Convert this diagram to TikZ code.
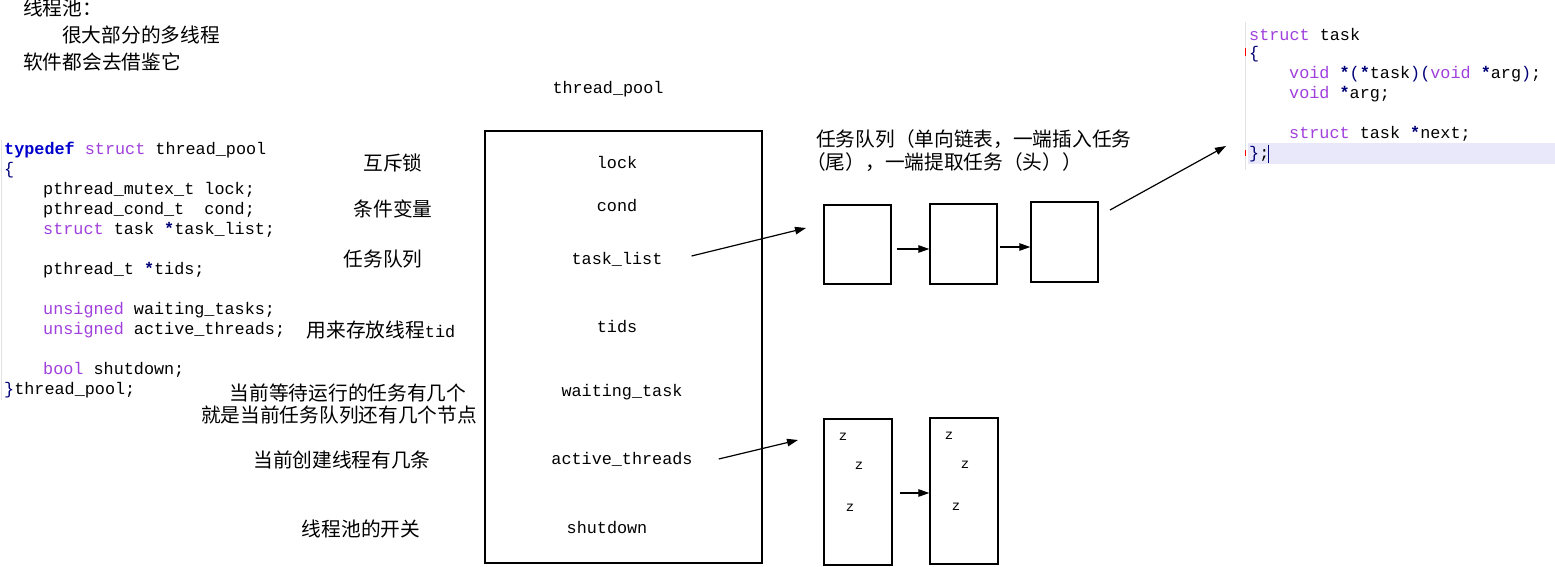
\documentclass[tikz,border=0pt]{standalone}
\usepackage{fontspec}
\setmonofont{Liberation Mono}
\newfontfamily\cjk{Noto Sans CJK SC}
\usetikzlibrary{arrows.meta}
\definecolor{kwc}{RGB}{160,64,220}
\definecolor{tdc}{RGB}{0,0,205}
\definecolor{opc}{RGB}{0,0,120}
\definecolor{hl}{RGB}{232,232,250}
\definecolor{gut}{RGB}{225,225,225}
\newcommand\kwd[1]{\textcolor{kwc}{#1}}
\newcommand\opr[1]{\textcolor{opc}{\bfseries #1}}
\tikzset{
  code/.style={anchor=west,inner sep=0pt,font=\fontsize{16.8}{20}\ttfamily},
  cn/.style={inner sep=0pt,font=\fontsize{19.7}{22}\cjk},
  cnl/.style={cn,anchor=west},
  lbl/.style={inner sep=0pt,font=\fontsize{16.8}{20}\ttfamily},
  blk/.style={draw,line width=1.4pt},
  arr/.style={-{Triangle[length=11pt,width=7.5pt]},line width=1.2pt},
  zz/.style={inner sep=0pt,font=\fontsize{14}{16}\ttfamily}
}
\begin{document}
\begin{tikzpicture}[x=1pt,y=-1pt]
\useasboundingbox[fill=white] (0,0) rectangle (1555,567);
% top-left notes
\node[cnl] (n1) at (23,8) {线程池：};
\node[cnl] (n2) at (62,35) {很大部分的多线程};
\node[cnl] (n3) at (23,62) {软件都会去借鉴它};
% left code
\draw[gut,line width=1pt] (1.5,140) -- (1.5,400);
\node[code] (c1) at (4,150) {\textcolor{tdc}{\bfseries typedef} \kwd{struct} thread\_pool};
\node[code] (c2) at (4,170) {\textcolor{opc}{\{}};
\node[code] (c3) at (43,190) {pthread\_mutex\_t lock;};
\node[code] (c4) at (43,210) {pthread\_cond\_t\ \ cond;};
\node[code] (c5) at (43,230) {\kwd{struct} task \opr{*}task\_list;};
\node[code] (c6) at (43,270) {pthread\_t \opr{*}tids;};
\node[code] (c7) at (43,310) {\kwd{unsigned} waiting\_tasks;};
\node[code] (c8) at (43,330) {\kwd{unsigned} active\_threads;};
\node[code] (c9) at (43,370) {\kwd{bool} shutdown;};
\node[code] (c10) at (4,390) {\textcolor{opc}{\}}thread\_pool;};
% annotations
\node[cn] (a1) at (393,163) {互斥锁};
\node[cn] (a2) at (393,209) {条件变量};
\node[cn] (a3) at (383,259) {任务队列};
\node[cn] (a4) at (381,330) {用来存放线程{\fontsize{16.8}{20}\ttfamily tid}};
\node[cn] (a5) at (348,393) {当前等待运行的任务有几个};
\node[cn] (a6) at (339,415) {就是当前任务队列还有几个节点};
\node[cn] (a7) at (342,460) {当前创建线程有几条};
\node[cn] (a8) at (361,529) {线程池的开关};
% thread pool box
\node[lbl] (tp) at (608,89) {thread\_pool};
\draw[blk] (485,131) rectangle (762,563);
\node[lbl] (f1) at (617,162) {lock};
\node[lbl] (f2) at (617,206) {cond};
\node[lbl] (f3) at (617,259) {task\_list};
\node[lbl] (f4) at (617,327) {tids};
\node[lbl] (f5) at (622,392) {waiting\_task};
\node[lbl] (f6) at (622,459) {active\_threads};
\node[lbl] (f7) at (607,528) {shutdown};
% task queue
\node[cnl] (q1) at (816,139) {任务队列（单向链表，一端插入任务};
\node[cnl] (q2) at (806,162) {（尾），一端提取任务（头））};
\node[blk,minimum width=67pt,minimum height=79pt,inner sep=0pt] (b1) at (857.5,244.5) {};
\node[blk,minimum width=67pt,minimum height=80pt,inner sep=0pt] (b2) at (963.5,244) {};
\node[blk,minimum width=67pt,minimum height=80pt,inner sep=0pt] (b3) at (1064.5,242) {};
\draw[arr] (b1.east|-0,249) ++(5,0) -- (b2.west|-0,249);
\draw[arr] (b2.east|-0,247) ++(2,0) -- (b3.west|-0,247);
\coordinate (q0) at (806,228);
\draw[arr] (f3.east) ++(29,-3) -- (q0);
\coordinate (tk) at (1226,146);
\coordinate (b3o) at (1110,210);
\draw[arr] (b3o) -- (tk);
% threads
\node[blk,minimum width=68pt,minimum height=146pt,inner sep=0pt] (t1) at (858,492) {};
\node[blk,minimum width=68pt,minimum height=146pt,inner sep=0pt] (t2) at (964,491) {};
\node[zz] (z1) at (843,437) {z};
\node[zz] (z2) at (859,466) {z};
\node[zz] (z3) at (850,508) {z};
\node[zz] (z4) at (949,436) {z};
\node[zz] (z5) at (965,465) {z};
\node[zz] (z6) at (956,507) {z};
\draw[arr] (t1.east|-0,493) ++(7,0) -- (t2.west|-0,493);
\coordinate (t0) at (798,440);
\draw[arr] (f6.east) ++(26,0) -- (t0);
% right code
\fill[hl] (1248,143) rectangle (1555,164);
\draw[gut,line width=1pt] (1245,22) -- (1245,170);
\draw[red,line width=0.8pt] (1245,48) -- (1245,56);
\draw[red,line width=0.8pt] (1245,150) -- (1245,156);
\node[code] (r1) at (1249,34) {\kwd{struct} task};
\node[code] (r2) at (1249,54) {\textcolor{opc}{\{}};
\node[code] (r3) at (1289,74) {\kwd{void} \opr{*}\textcolor{opc}{(}\opr{*}task\textcolor{opc}{)}\textcolor{opc}{(}\kwd{void} \opr{*}arg\textcolor{opc}{)};};
\node[code] (r4) at (1289,94) {\kwd{void} \opr{*}arg;};
\node[code] (r5) at (1289,134) {\kwd{struct} task \opr{*}next;};
\node[code] (r6) at (1249,154) {\textcolor{opc}{\}};};
\draw[opc,line width=0.8pt] (1268,145) -- (1268,163);
\end{tikzpicture}
\end{document}
